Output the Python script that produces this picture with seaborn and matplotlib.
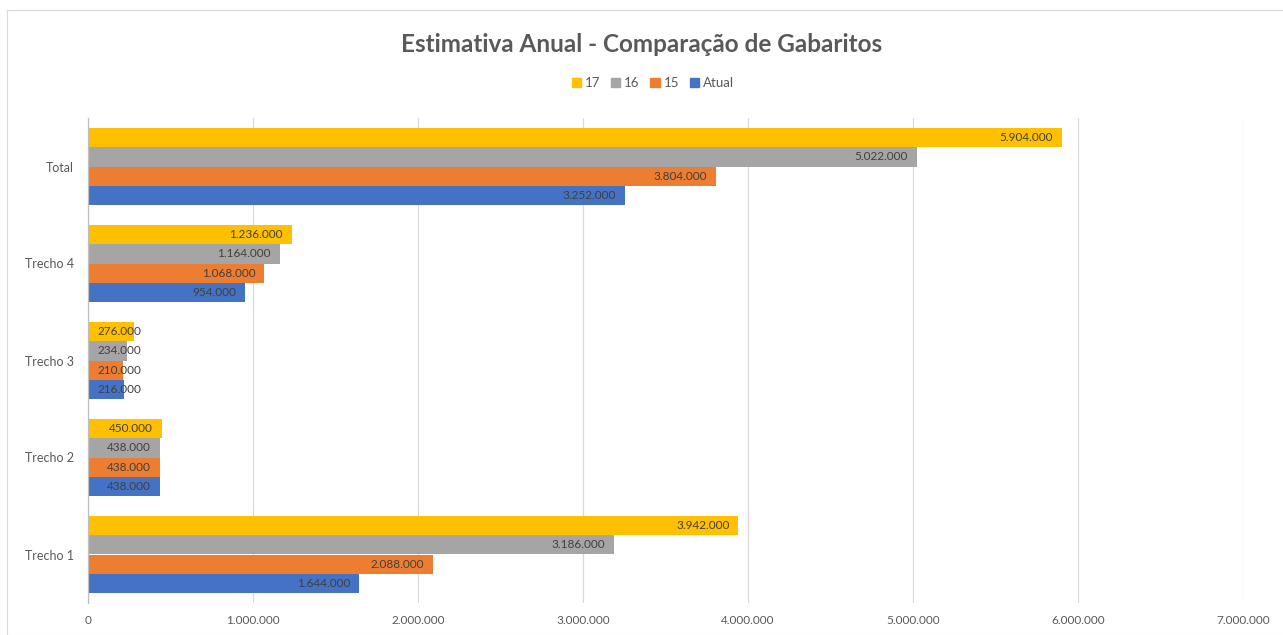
import matplotlib
matplotlib.use("Agg")
import matplotlib.pyplot as plt
import seaborn as sns
import pandas as pd
from matplotlib.patches import Rectangle

# Annual estimate per section, one list per clearance scenario
categories = ["Total", "Trecho 4", "Trecho 3", "Trecho 2", "Trecho 1"]
series_names = ["17", "16", "15", "Atual"]
vals_17 = [5904000, 1236000, 276000, 450000, 3942000]
vals_16 = [5022000, 1164000, 234000, 438000, 3186000]
vals_15 = [3804000, 1068000, 210000, 438000, 2088000]
vals_atual = [3252000, 954000, 216000, 438000, 1644000]
x_ticks = [0, 1000000, 2000000, 3000000, 4000000, 5000000, 6000000, 7000000]

colors = {"17": "#FFC000", "16": "#A5A5A5", "15": "#ED7D31", "Atual": "#4472C4"}

rows = []
for name, vals in zip(series_names, [vals_17, vals_16, vals_15, vals_atual]):
    for cat, v in zip(categories, vals):
        rows.append({"Trecho": cat, "Gabarito": name, "Valor": v})
df = pd.DataFrame(rows)


def fmt(v):
    return f"{v:,.0f}".replace(",", ".")


sns.set_theme(style="white")
plt.rcParams["font.family"] = ["Lato", "DejaVu Sans"]

fig = plt.figure(figsize=(12.83, 6.35), dpi=100)
ax = fig.add_axes([88 / 1283, 1 - 603 / 635, (1243 - 88) / 1283, (603 - 118) / 635])

sns.barplot(data=df, y="Trecho", x="Valor", hue="Gabarito", order=categories,
            hue_order=series_names, palette=colors, orient="h", width=0.8,
            saturation=1, ax=ax, legend=False, edgecolor="none", errorbar=None)

ax.set_xlim(0, 7000000)
ax.set_xticks(x_ticks)
ax.set_xticklabels([fmt(v) for v in x_ticks], fontsize=8.5, color="#595959")
ax.tick_params(axis="y", labelsize=9, labelcolor="#595959", length=0, pad=10)
ax.tick_params(axis="x", length=0, pad=9)
ax.set_xlabel("")
ax.set_ylabel("")
ax.grid(axis="x", color="#D9D9D9", linewidth=0.9)
ax.set_axisbelow(True)
for side in ["top", "right", "bottom"]:
    ax.spines[side].set_visible(False)
ax.spines["left"].set_color("#BFBFBF")
ax.spines["left"].set_linewidth(0.9)

# Value labels inside the end of each bar; short bars keep the label
# anchored near the axis instead of spilling past it
pad_px = 9
labels = []
for container in ax.containers:
    for bar in container:
        w = bar.get_width()
        yc = bar.get_y() + bar.get_height() / 2
        t = ax.annotate(fmt(w), xy=(w, yc), xytext=(-pad_px, 0), textcoords="offset pixels",
                        ha="right", va="center", fontsize=8.5, color="#404040")
        labels.append(t)

fig.canvas.draw()
renderer = fig.canvas.get_renderer()
ax_x0 = ax.get_window_extent(renderer).x0
for t in labels:
    bb = t.get_window_extent(renderer)
    if bb.x0 < ax_x0 + pad_px:
        t.set_ha("left")
        t.xy = (0, t.xy[1])
        t.set_position((pad_px, 0))

fig.text(0.5, 1 - 45 / 635, "Estimativa Anual - Comparação de Gabaritos",
         ha="center", va="center", fontsize=17.5, fontweight="bold", color="#595959")

handles = [Rectangle((0, 0), 1, 1, color=colors[n]) for n in series_names]
fig.legend(handles, series_names, loc="center", bbox_to_anchor=(653 / 1283, 1 - 83 / 635),
           ncol=4, frameon=False, fontsize=9.5, labelcolor="#595959",
           handlelength=0.7, handleheight=0.7, handletextpad=0.3, columnspacing=0.8)

# Light chart-area border
fig.patches.append(Rectangle((7 / 1283, 0), 1.0, 1 - 10 / 635, transform=fig.transFigure,
                             fill=False, edgecolor="#D9D9D9", linewidth=0.8))

fig.savefig("out.png", dpi=100)
